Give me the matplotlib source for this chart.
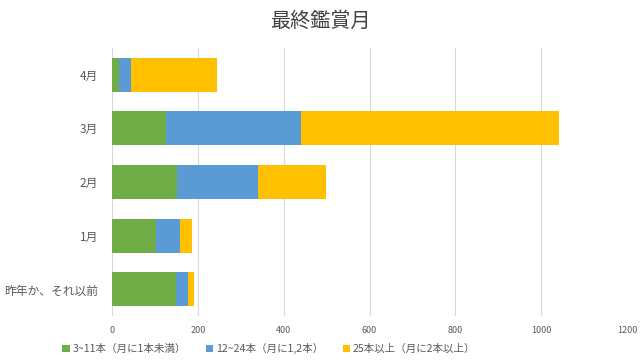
import numpy as np
import matplotlib
matplotlib.use('Agg')
from matplotlib import pyplot as plt

plt.rcParams['font.family'] = ['Noto Sans CJK JP', 'DejaVu Sans']

categories = ['昨年か、それ以前', '1月', '2月', '3月', '4月']
low = [148, 103, 151, 125, 16]
mid = [30, 55, 189, 315, 29]
high = [13, 28, 158, 600, 200]
labels = ['3~11本（月に1本未満）', '12~24本（月に1,2本）', '25本以上（月に2本以上）']
colors = ['#70AD47', '#5B9BD5', '#FFC000']
xticks = [0, 200, 400, 600, 800, 1000, 1200]

fig = plt.figure(figsize=(6.4, 3.6), dpi=100)
ax = fig.add_axes([0.175, 0.122, 0.805, 0.745])

y = np.arange(len(categories))
left = np.zeros(len(categories))
for vals, lab, c in zip([low, mid, high], labels, colors):
    ax.barh(y, vals, left=left, height=0.63, color=c, label=lab, zorder=3)
    left += np.array(vals)

ax.set_xlim(0, 1200)
ax.set_ylim(-0.5, len(categories) - 0.5)
ax.set_xticks(xticks)
ax.set_yticks(y)
ax.set_yticklabels(categories, fontsize=8.5, color='#595959')
ax.tick_params(axis='x', labelsize=6.5, labelcolor='#595959', length=0, pad=7)
ax.tick_params(axis='y', length=0, pad=10)
ax.grid(axis='x', color='#D9D9D9', linewidth=0.8, zorder=0)
for s in ax.spines.values():
    s.set_visible(False)

fig.suptitle('最終鑑賞月', y=0.97, fontsize=14.5, color='#404040')
fig.legend(loc='lower center', bbox_to_anchor=(0.42, -0.01), ncol=3, frameon=False,
           fontsize=7.6, labelcolor='#595959', handlelength=0.7, handleheight=0.7,
           handletextpad=0.25, columnspacing=1.9)

fig.savefig('out.png', dpi=100)
